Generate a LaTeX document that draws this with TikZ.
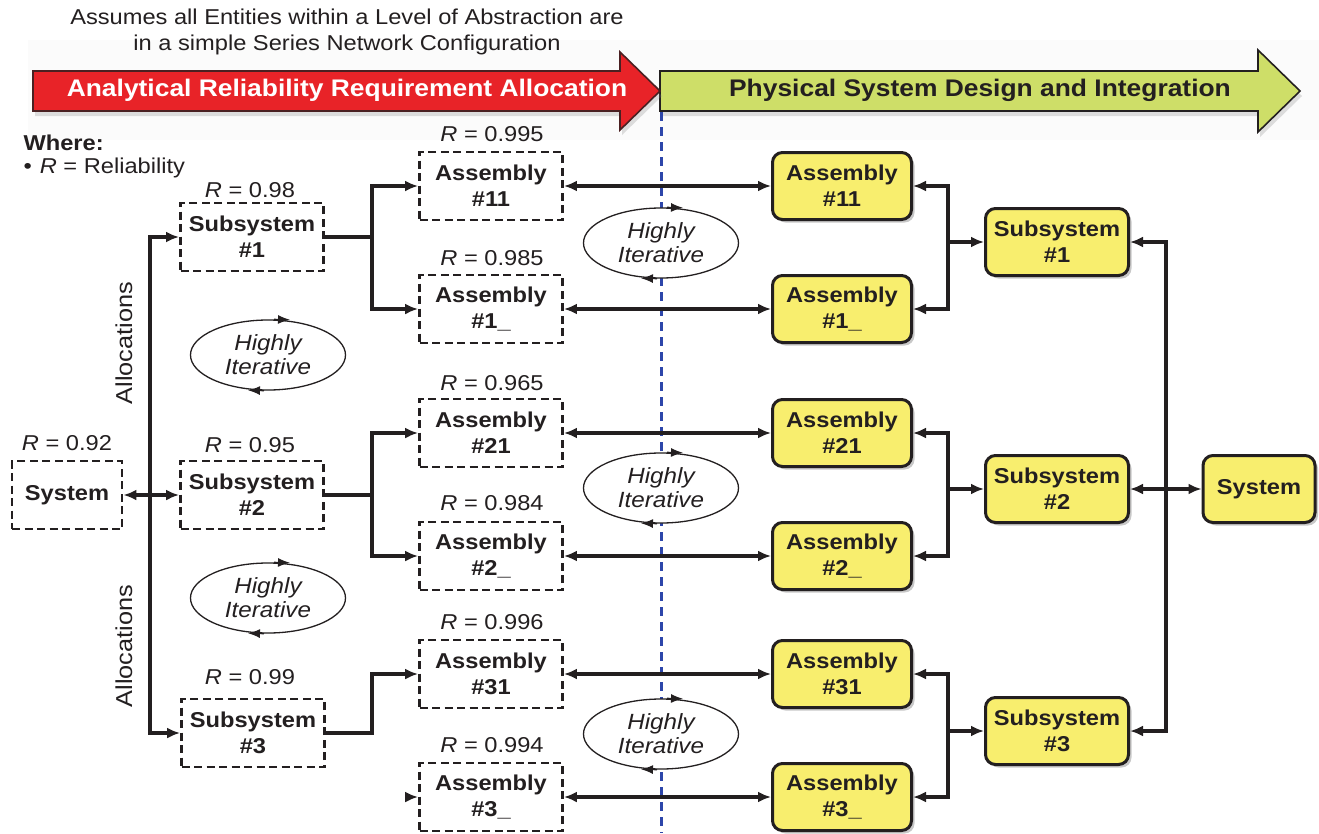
\documentclass[tikz,border=0pt]{standalone}
\usepackage{fontspec}
\setmainfont{Liberation Sans}[FakeStretch=1.1]
\usetikzlibrary{arrows.meta,shapes.geometric,shadows,calc}

\definecolor{ink}{RGB}{35,31,32}
\definecolor{redarrow}{RGB}{232,35,40}
\definecolor{greenarrow}{RGB}{206,222,104}
\definecolor{boxyellow}{RGB}{248,238,110}
\definecolor{divider}{RGB}{45,70,170}

% small arrowheads riding on an iteration ellipse (clockwise)
\newcommand\iterarrows[1]{%
  \draw[ink, line width=1.3pt, -{Latex[length=12pt,width=9pt]}]
    ($(#1.north)+(6,0)$) -- ($(#1.north)+(22,0.4)$);
  \draw[ink, line width=1.3pt, -{Latex[length=12pt,width=9pt]}]
    ($(#1.south)+(-4,0)$) -- ($(#1.south)+(-20,-0.4)$);
}

\begin{document}
\begin{tikzpicture}[x=1pt,y=-1pt,
  every node/.style={font=\fontsize{21.5}{26}\selectfont, text=ink},
  dbox/.style={draw=ink, dash pattern=on 8pt off 4.5pt, line width=2.8pt,
    minimum width=143pt, minimum height=68pt, inner sep=0pt, align=center,
    font=\fontsize{21.5}{26}\selectfont\bfseries},
  ybox/.style={draw=ink, fill=boxyellow, rounded corners=10pt, line width=3pt,
    minimum width=139pt, minimum height=67pt, inner sep=0pt, align=center,
    font=\fontsize{21.5}{26}\selectfont\bfseries,
    drop shadow={shadow xshift=3pt, shadow yshift=-3pt, opacity=0.3, fill=black!70}},
  iter/.style={ellipse, draw=ink, fill=white, line width=1.3pt,
    minimum width=155pt, minimum height=70pt, inner sep=0pt, align=center,
    font=\fontsize{22}{24}\selectfont\itshape},
  rlab/.style={inner sep=0pt},
  link/.style={draw=ink, line width=3.2pt},
  arr/.style={-{Latex[length=13pt,width=11pt]}},
  dbl/.style={{Latex[length=13pt,width=11pt]}-{Latex[length=13pt,width=11pt]}},
  phase/.style={font=\fontsize{24}{28}\selectfont\bfseries, inner sep=0pt}
]
\useasboundingbox (0,0) rectangle (1319,833);
\fill[white] (0,0) rectangle (1319,833);
\fill[black!1.5] (28,40) rectangle (1319,140);

% heading note
\node[align=center] (note) at (347,32)
  {Assumes all Entities within a Level of Abstraction are\\in a simple Series Network Configuration};

% phase arrows
\filldraw[fill=greenarrow, draw=ink, line width=1.6pt,
  drop shadow={shadow xshift=2pt, shadow yshift=-5pt, opacity=0.25}]
  (660,71) -- (1258,71) -- (1258,50) -- (1300,91) -- (1258,132) -- (1258,111) -- (660,111) -- cycle;
\filldraw[fill=redarrow, draw=ink!80!redarrow, line width=1.6pt,
  drop shadow={shadow xshift=2pt, shadow yshift=-5pt, opacity=0.25}]
  (33,71) -- (620,71) -- (620,52) -- (660,91) -- (620,130) -- (620,111) -- (33,111) -- cycle;
\node[phase, text=white] (alloc) at (347,90) {Analytical Reliability Requirement Allocation};
\node[phase] (design) at (980,90) {Physical System Design and Integration};

% legend
\node[anchor=west, font=\fontsize{21.5}{26}\selectfont\bfseries] (where) at (20,143) {Where:};
\node[anchor=west] (legend) at (20,168) {•\hspace{8pt}\textit{R} = Reliability};

% boundary between allocation and design
\coordinate (divtop) at (661,112);
\coordinate (divbot) at (661,833);
\draw[divider, line width=3pt, dash pattern=on 9pt off 6pt] (divtop) -- (divbot);

% allocation side
\node[dbox, minimum width=110pt] (lsys) at (67,495) {System};
\node[dbox] (lsub1) at (252,237) {Subsystem\\\#1};
\node[dbox] (lsub2) at (252,495) {Subsystem\\\#2};
\node[dbox] (lsub3) at (253,733) {Subsystem\\\#3};
\node[dbox] (la11) at (491,186) {Assembly\\\#11};
\node[dbox] (la1x) at (491,309) {Assembly\\\#1\_};
\node[dbox] (la21) at (491,433) {Assembly\\\#21};
\node[dbox] (la2x) at (491,556) {Assembly\\\#2\_};
\node[dbox] (la31) at (491,674) {Assembly\\\#31};
\node[dbox] (la3x) at (491,797) {Assembly\\\#3\_};

\node[rlab] (r0) at (67,443) {\textit{R} = 0.92};
\node[rlab] (r1) at (250,190) {\textit{R} = 0.98};
\node[rlab] (r2) at (250,445) {\textit{R} = 0.95};
\node[rlab] (r3) at (250,677) {\textit{R} = 0.99};
\node[rlab] (r11) at (492,134) {\textit{R} = 0.995};
\node[rlab] (r1x) at (492,258) {\textit{R} = 0.985};
\node[rlab] (r21) at (492,383) {\textit{R} = 0.965};
\node[rlab] (r2x) at (492,503) {\textit{R} = 0.984};
\node[rlab] (r31) at (492,622) {\textit{R} = 0.996};
\node[rlab] (r3x) at (492,745) {\textit{R} = 0.994};

\node[rotate=90, font=\fontsize{23}{26}\selectfont] (allocA) at (124,343) {Allocations};
\node[rotate=90, font=\fontsize{23}{26}\selectfont] (allocB) at (124,646) {Allocations};

% iteration loops
\node[iter] (e1) at (268,355) {Highly\\Iterative};
\node[iter] (e2) at (268,598) {Highly\\Iterative};
\node[iter] (e3) at (661,243) {Highly\\Iterative};
\node[iter] (e4) at (661,488) {Highly\\Iterative};
\node[iter] (e5) at (661,734) {Highly\\Iterative};
\foreach \e in {e1,e2,e3,e4,e5} {\iterarrows{\e}}

% design side
\node[ybox] (ya11) at (842,186) {Assembly\\\#11};
\node[ybox] (ya1x) at (842,309) {Assembly\\\#1\_};
\node[ybox] (ya21) at (842,433) {Assembly\\\#21};
\node[ybox] (ya2x) at (842,556) {Assembly\\\#2\_};
\node[ybox] (ya31) at (842,674) {Assembly\\\#31};
\node[ybox] (ya3x) at (842,797) {Assembly\\\#3\_};
\node[ybox, minimum width=143pt] (ysub1) at (1057,242) {Subsystem\\\#1};
\node[ybox, minimum width=143pt] (ysub2) at (1057,489) {Subsystem\\\#2};
\node[ybox, minimum width=143pt] (ysub3) at (1057,731) {Subsystem\\\#3};
\node[ybox, minimum width=112pt] (ysys) at (1259,489) {System};

% bus and fork columns
\coordinate (lbus) at (150,0);
\coordinate (lfork) at (372,0);
\coordinate (rfork) at (948,0);
\coordinate (rbus) at (1166,0);

% system to subsystems (allocation)
\draw[link,dbl] (lsys.east) -- (lsub2.west);
\draw[link,arr] (lsub2.west -| lbus) |- (lsub1.west);
\draw[link,arr] (lsub2.west -| lbus) |- (lsub3.west);

% subsystems to assemblies (allocation)
\draw[link] (lsub1.east) -- (lsub1.east -| lfork);
\draw[link,arr] (lsub1.east -| lfork) |- (la11.west);
\draw[link,arr] (lsub1.east -| lfork) |- (la1x.west);
\draw[link] (lsub2.east) -- (lsub2.east -| lfork);
\draw[link,arr] (lsub2.east -| lfork) |- (la21.west);
\draw[link,arr] (lsub2.east -| lfork) |- (la2x.west);
\draw[link,arr] (lsub3.east) -- (lsub3.east -| lfork) |- (la31.west);
\coordinate (stub) at (407,797);
\draw[link,arr] (stub) -- (la3x.west);

% allocated assemblies to physical assemblies
\foreach \a in {11,1x,21,2x,31,3x} {\draw[link,dbl] (la\a.east) -- (ya\a.west);}

% physical assemblies into subsystems
\draw[link,arr] (ysub1.west -| rfork) |- (ya11.east);
\draw[link,arr] (ysub1.west -| rfork) |- (ya1x.east);
\draw[link,arr] (ysub1.west -| rfork) -- (ysub1.west);
\draw[link,arr] (ysub2.west -| rfork) |- (ya21.east);
\draw[link,arr] (ysub2.west -| rfork) |- (ya2x.east);
\draw[link,arr] (ysub2.west -| rfork) -- (ysub2.west);
\draw[link,arr] (ysub3.west -| rfork) |- (ya31.east);
\draw[link,arr] (ysub3.west -| rfork) |- (ya3x.east);
\draw[link,arr] (ysub3.west -| rfork) -- (ysub3.west);

% subsystems into the system
\draw[link,arr] (ysub2.east -| rbus) |- (ysub1.east);
\draw[link,arr] (ysub2.east -| rbus) |- (ysub3.east);
\draw[link,dbl] (ysub2.east) -- (ysys.west);
\end{tikzpicture}
\end{document}
